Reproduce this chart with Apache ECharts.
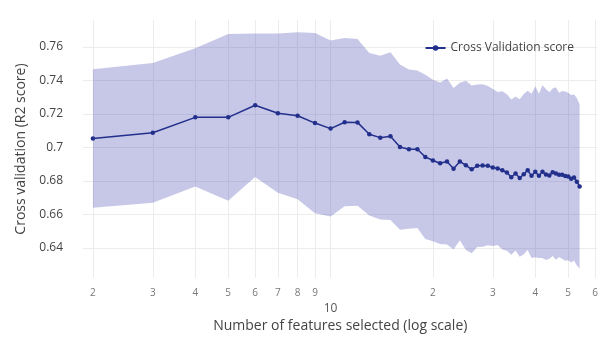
<!DOCTYPE html>
<html>
<head>
<meta charset="utf-8">
<script src="https://cdn.jsdelivr.net/npm/echarts@6/dist/echarts.min.js"></script>
<style>
  html, body { margin: 0; padding: 0; background: #fff; }
  #chart { width: 601px; height: 338px; }
</style>
</head>
<body>
<div id="chart"></div>
<script>
// Number of selected features (log-scale x axis)
const features = [2, 3, 4, 5, 6, 7, 8, 9, 10, 11, 12, 13, 14, 15, 16, 17, 18, 19, 20,
  21, 22, 23, 24, 25, 26, 27, 28, 29, 30, 31, 32, 33, 34, 35, 36, 37, 38, 39, 40,
  41, 42, 43, 44, 45, 46, 47, 48, 49, 50, 51, 52, 53, 54];

// Mean cross-validated R2 score for each feature count
const cvMean = [0.7053, 0.7087, 0.7179, 0.7179, 0.7251, 0.7204, 0.7189, 0.7145, 0.7112,
  0.7150, 0.7149, 0.7078, 0.7058, 0.7067, 0.7002, 0.6989, 0.6989, 0.6943, 0.6922,
  0.6905, 0.6916, 0.6872, 0.6916, 0.6893, 0.6869, 0.6890, 0.6892, 0.6891, 0.6880,
  0.6874, 0.6863, 0.6850, 0.6822, 0.6844, 0.6817, 0.6840, 0.6863, 0.6830, 0.6855,
  0.6830, 0.6855, 0.6838, 0.6832, 0.6852, 0.6844, 0.6836, 0.6836, 0.6829, 0.6826,
  0.6813, 0.6820, 0.6795, 0.6767];

// Standard deviation of the score across folds
const cvStd = [0.0413, 0.0417, 0.0413, 0.0497, 0.0428, 0.0475, 0.0498, 0.0538, 0.0525,
  0.0502, 0.0497, 0.0485, 0.0489, 0.0500, 0.0493, 0.0475, 0.0470, 0.0490, 0.0482,
  0.0482, 0.0495, 0.0482, 0.0470, 0.0505, 0.0500, 0.0485, 0.0485, 0.0475, 0.0468,
  0.0457, 0.0472, 0.0467, 0.0463, 0.0460, 0.0470, 0.0478, 0.0475, 0.0490, 0.0510,
  0.0490, 0.0515, 0.0510, 0.0497, 0.0500, 0.0515, 0.0490, 0.0500, 0.0505, 0.0500,
  0.0500, 0.0495, 0.0500, 0.0490];

// Axis ticks
const xTickValues = [2, 3, 4, 5, 6, 7, 8, 9, 10, 20, 30, 40, 50, 60];
const xTickLabels = ['2', '3', '4', '5', '6', '7', '8', '9', '10', '2', '3', '4', '5', '6'];
const yTickValues = [0.64, 0.66, 0.68, 0.70, 0.72, 0.74, 0.76];
const yTickLabels = ['0.64', '0.66', '0.68', '0.7', '0.72', '0.74', '0.76'];

const seriesName = 'Cross Validation score';
const lineColor = '#22308c';
const bandColor = 'rgba(68, 68, 180, 0.3)';
const gridColor = '#ececec';
const fontFamily = '"Open Sans", "Noto Sans", sans-serif';

// Band rows: [features, mean - std, mean + std]
const bandData = features.map((n, i) => [n, cvMean[i] - cvStd[i], cvMean[i] + cvStd[i]]);
const meanData = features.map((n, i) => [n, cvMean[i]]);

// Draws the whole ±1 std band as one polygon through the axis scales
function renderBand(params, api) {
  if (params.dataIndexInside !== 0) return null;
  const count = params.dataInsideLength;
  const upper = [];
  const lower = [];
  for (let i = 0; i < count; i++) {
    const x = api.value(0, i);
    upper.push(api.coord([x, api.value(2, i)]));
    lower.push(api.coord([x, api.value(1, i)]));
  }
  return {
    type: 'polygon',
    shape: { points: upper.concat(lower.reverse()) },
    style: { fill: bandColor },
    silent: true
  };
}

const chart = echarts.init(document.getElementById('chart'), null, { renderer: 'canvas' });

chart.setOption({
  animation: false,
  backgroundColor: '#ffffff',
  textStyle: { fontFamily: fontFamily },
  grid: { left: 83, right: 3, top: 20, bottom: 49, containLabel: false },
  legend: {
    data: [seriesName],
    right: 22,
    top: 37,
    itemWidth: 20,
    itemHeight: 7,
    itemGap: 4,
    textStyle: { color: '#444', fontSize: 12, fontFamily: fontFamily }
  },
  xAxis: {
    type: 'log',
    logBase: 10,
    min: 1.87,
    max: 61,
    name: 'Number of features selected (log scale)',
    nameLocation: 'middle',
    nameGap: 30,
    nameTextStyle: { color: '#444', fontSize: 14, fontFamily: fontFamily },
    axisLine: { show: false },
    axisTick: { show: false, customValues: xTickValues },
    splitLine: { show: true, customValues: xTickValues, lineStyle: { color: gridColor, width: 1 } },
    minorSplitLine: { show: false },
    axisLabel: {
      customValues: xTickValues,
      margin: 10,
      color: '#777',
      fontSize: 10,
      fontFamily: fontFamily,
      formatter: function (v) {
        const idx = xTickValues.findIndex(t => Math.abs(t - v) < 1e-6 * t);
        if (idx < 0) return '';
        const label = xTickLabels[idx];
        return xTickValues[idx] === 10 ? '{big|' + label + '}' : label;
      },
      rich: {
        big: { fontSize: 12, color: '#555', padding: [14, 0, 0, 0], fontFamily: fontFamily }
      }
    }
  },
  yAxis: {
    type: 'value',
    min: 0.622,
    max: 0.776,
    name: 'Cross validation (R2 score)',
    nameLocation: 'middle',
    nameGap: 55,
    nameTextStyle: { color: '#444', fontSize: 14, fontFamily: fontFamily },
    axisLine: { show: false },
    axisTick: { show: false, customValues: yTickValues },
    splitLine: { show: true, customValues: yTickValues, lineStyle: { color: gridColor, width: 1 } },
    axisLabel: {
      customValues: yTickValues,
      margin: 20,
      color: '#444',
      fontSize: 12,
      fontFamily: fontFamily,
      formatter: function (v) {
        const idx = yTickValues.findIndex(t => Math.abs(t - v) < 1e-6);
        return idx < 0 ? '' : yTickLabels[idx];
      }
    }
  },
  series: [
    {
      name: 'band',
      type: 'custom',
      data: bandData,
      encode: { x: 0, y: [1, 2] },
      renderItem: renderBand,
      silent: true,
      z: 1
    },
    {
      name: seriesName,
      type: 'line',
      data: meanData,
      symbol: 'circle',
      symbolSize: 4.5,
      itemStyle: { color: lineColor },
      lineStyle: { color: lineColor, width: 1.5 },
      z: 3
    }
  ]
});
</script>
</body>
</html>
